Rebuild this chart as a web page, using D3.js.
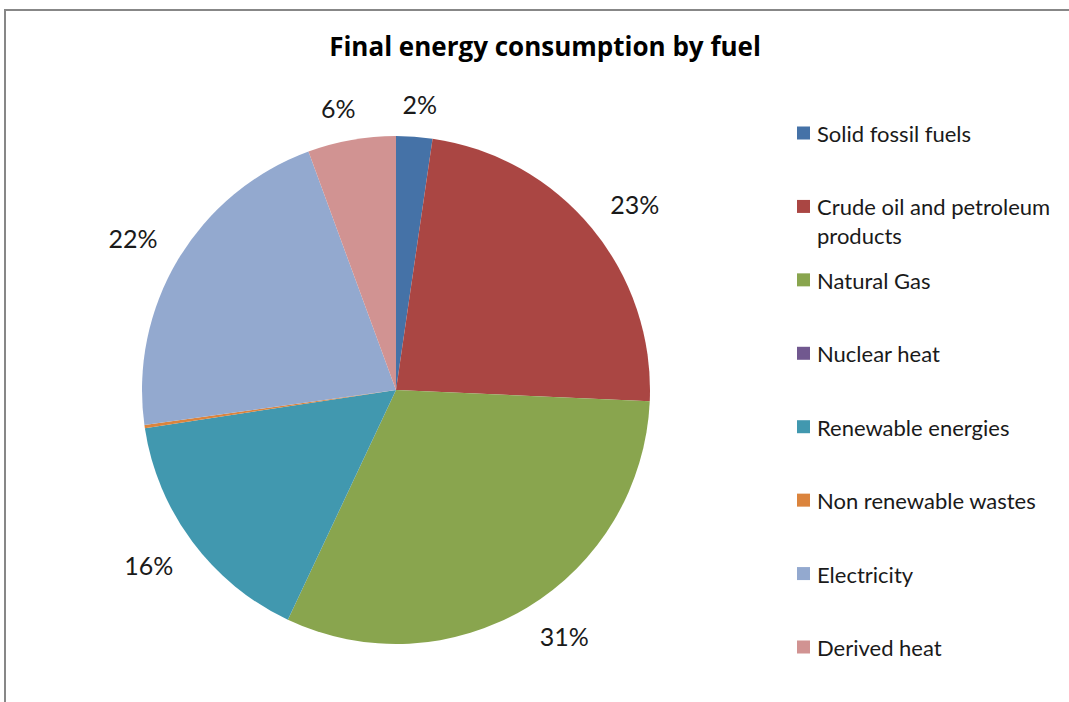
<!DOCTYPE html>
<html>
<head>
<meta charset="utf-8">
<script src="https://cdn.jsdelivr.net/npm/d3@7"></script>
<style>
  html, body { margin: 0; padding: 0; background: #fff; }
  svg { display: block; }
  text { font-family: Lato, "Open Sans", sans-serif; fill: #1a1a1a; }
  text.title { font-family: "Open Sans", sans-serif; fill: #000; }
</style>
</head>
<body>
<svg id="chart" width="1069" height="702"></svg>
<script>
// Final energy consumption by fuel (share, %)
const categories = [
  "Solid fossil fuels",
  "Crude oil and petroleum products",
  "Natural Gas",
  "Nuclear heat",
  "Renewable energies",
  "Non renewable wastes",
  "Electricity",
  "Derived heat"
];
const shares = [2.3, 23.4, 31.3, 0.0, 15.6, 0.2, 21.6, 5.6];
const colors = ["#4572A7", "#AA4643", "#89A54E", "#71588F", "#4198AF", "#DB843D", "#93A9CF", "#D19392"];
const legendLines = [
  ["Solid fossil fuels"],
  ["Crude oil and petroleum", "products"],
  ["Natural Gas"],
  ["Nuclear heat"],
  ["Renewable energies"],
  ["Non renewable wastes"],
  ["Electricity"],
  ["Derived heat"]
];
const title = "Final energy consumption by fuel";

const svg = d3.select("#chart");
const W = 1069, H = 702;

// chart area frame
svg.append("path")
  .attr("d", `M5,${H} V10 H${W}`)
  .attr("fill", "none")
  .attr("stroke", "#878787")
  .attr("stroke-width", 2);

svg.append("text")
  .attr("class", "title")
  .attr("x", 545)
  .attr("y", 56)
  .attr("text-anchor", "middle")
  .attr("font-size", 26)
  .attr("font-weight", "bold")
  .text(title);

const cx = 396, cy = 390, R = 254;
const total = d3.sum(shares);
const data = categories.map((c, i) => ({ name: c, value: shares[i], color: colors[i] }));

const pie = d3.pie().value(d => d.value).sort(null);
const arcs = pie(data);
const arc = d3.arc().innerRadius(0).outerRadius(R);

const g = svg.append("g").attr("transform", `translate(${cx},${cy})`);

g.selectAll("path.slice")
  .data(arcs)
  .join("path")
  .attr("class", "slice")
  .attr("d", arc)
  .attr("fill", d => d.data.color);

// outside-end data labels: the label box sits just beyond the rim,
// pushed outward by half its own size along the slice's mid direction
const pct = d3.format(".0%");
const labelR = R + 24, halfH = 8.5;
const clamp = v => Math.max(-1, Math.min(1, v));
g.selectAll("text.lbl")
  .data(arcs.filter(d => d.data.value / total >= 0.01))
  .join("text")
  .attr("class", "lbl")
  .attr("text-anchor", "middle")
  .attr("dominant-baseline", "central")
  .attr("font-size", 25)
  .text(d => pct(d.data.value / total))
  .attr("transform", function(d) {
    const a = (d.startAngle + d.endAngle) / 2;
    const ux = Math.sin(a), uy = -Math.cos(a);
    const w = this.getComputedTextLength();
    const x = labelR * ux + (w / 2) * clamp(3 * ux);
    const y = labelR * uy + halfH * clamp(3 * uy);
    return `translate(${x},${y})`;
  });

// legend
const ly = d3.scalePoint().domain(d3.range(categories.length)).range([133, 647]);
const legend = svg.append("g");
const items = legend.selectAll("g.item")
  .data(data)
  .join("g")
  .attr("class", "item")
  .attr("transform", (d, i) => `translate(797,${ly(i)})`);

items.append("rect")
  .attr("x", 0).attr("y", -6.5)
  .attr("width", 13).attr("height", 13)
  .attr("fill", d => d.color);

items.each(function(d, i) {
  const t = d3.select(this).append("text")
    .attr("x", 20)
    .attr("font-size", 22)
    .attr("dominant-baseline", "central");
  legendLines[i].forEach((line, k) => {
    t.append("tspan").attr("x", 20).attr("y", k * 29).text(line);
  });
});
</script>
</body>
</html>
